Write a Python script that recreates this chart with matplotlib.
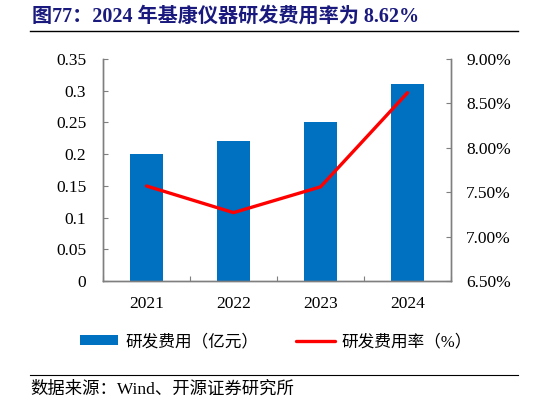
import matplotlib
matplotlib.use("Agg")
import matplotlib.pyplot as plt
from matplotlib.lines import Line2D
import numpy as np

# Data
years = ["2021", "2022", "2023", "2024"]
rd_expense = [0.20, 0.22, 0.25, 0.31]      # 研发费用（亿元）
rd_rate = [7.57, 7.27, 7.56, 8.62]          # 研发费用率（%）
left_ticks = [0, 0.05, 0.1, 0.15, 0.2, 0.25, 0.3, 0.35]
left_labels = ["0", "0.05", "0.1", "0.15", "0.2", "0.25", "0.3", "0.35"]
right_ticks = [6.5, 7.0, 7.5, 8.0, 8.5, 9.0]

title = "图77：2024 年基康仪器研发费用率为 8.62%"
source = "数据来源：Wind、开源证券研究所"
bar_label = "研发费用（亿元）"
line_label = "研发费用率（%）"

FONTS = ["Liberation Serif", "Noto Sans CJK SC", "DejaVu Sans"]
plt.rcParams["font.family"] = FONTS

BLUE = "#0070C0"
RED = "#FF0000"
AXIS = "#7F7F7F"
NAVY = "#1A1A7E"

fig = plt.figure(figsize=(5.46, 4.05), dpi=100)
W, H = 546, 405

ax = fig.add_axes([103 / W, 1 - 281 / H, (451 - 103) / W, (281 - 59) / H])
ax2 = ax.twinx()

x = np.arange(len(years))
bars = ax.bar(x, rd_expense, width=0.39, color=BLUE, zorder=2)
line, = ax2.plot(x, rd_rate, color=RED, lw=2.4, solid_capstyle="round", zorder=3)

ax.set_xlim(-0.5, len(years) - 0.5)
ax.set_ylim(0, 0.35)
ax2.set_ylim(6.5, 9.0)

# category boundary ticks, labels at centres
ax.set_xticks(np.arange(-0.5, len(years), 1.0))
ax.set_xticklabels([])
ax.set_xticks(x, minor=True)
ax.set_xticklabels(years, minor=True)
ax.tick_params(axis="x", which="major", direction="in", length=3.5, color=AXIS)
ax.tick_params(axis="x", which="minor", length=0, pad=11, labelsize=12.5)

ax.set_yticks(left_ticks)
ax.set_yticklabels(left_labels)
ax.tick_params(axis="y", direction="in", length=3.5, color=AXIS, pad=12, labelsize=12.5)

ax2.set_yticks(right_ticks)
ax2.set_yticklabels([f"{v:.2f}%" for v in right_ticks])
ax2.tick_params(axis="y", direction="in", length=3.5, color=AXIS, pad=11, labelsize=12.5)

for a in (ax, ax2):
    a.spines["top"].set_visible(False)
    for s in ("left", "right", "bottom"):
        a.spines[s].set_color(AXIS)
        a.spines[s].set_linewidth(1.0)

# title, rules and source
fig.text(32 / W, 1 - 17 / H, title, fontsize=14.5, fontweight="bold", color=NAVY,
         va="center", ha="left", family=FONTS)
fig.add_artist(Line2D([30 / W, 518 / W], [1 - 31 / H, 1 - 31 / H], color="black", lw=1.0))
fig.add_artist(Line2D([30 / W, 518 / W], [1 - 375 / H, 1 - 375 / H], color="black", lw=0.8))
fig.text(30 / W, 1 - 390 / H, source, fontsize=12.5, va="center", ha="left", family=FONTS)

fig.legend([bars, line], [bar_label, line_label], loc="center",
           bbox_to_anchor=(276 / W, 1 - 342 / H), ncol=2, frameon=False,
           handlelength=2.3, handleheight=0.5, columnspacing=2.3,
           handletextpad=0.4, prop={"family": FONTS, "size": 12})

fig.savefig("out.png", dpi=100)
